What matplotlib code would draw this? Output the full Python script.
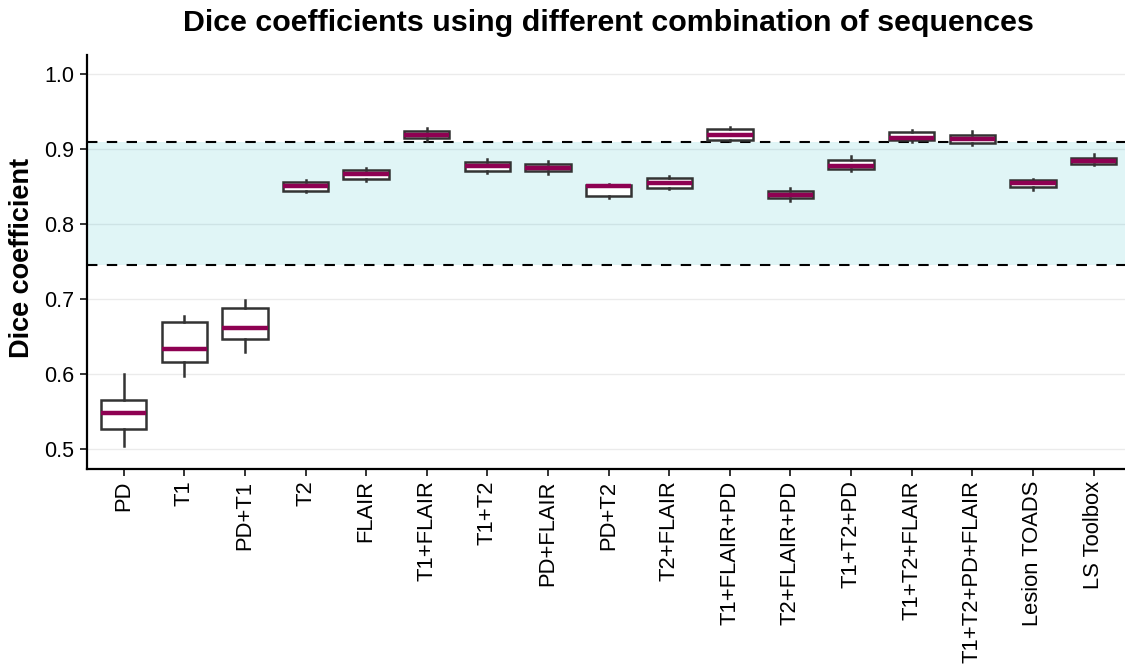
import matplotlib
matplotlib.use("Agg")
import matplotlib.pyplot as plt
import numpy as np

# sequence combinations along the x axis
labels = ['PD', 'T1', 'PD+T1', 'T2', 'FLAIR', 'T1+FLAIR', 'T1+T2', 'PD+FLAIR',
          'PD+T2', 'T2+FLAIR', 'T1+FLAIR+PD', 'T2+FLAIR+PD', 'T1+T2+PD',
          'T1+T2+FLAIR', 'T1+T2+PD+FLAIR', 'Lesion TOADS', 'LS Toolbox']

# box summary statistics of the dice coefficient per combination
whislo = [0.504, 0.598, 0.629, 0.842, 0.857, 0.911, 0.868, 0.866, 0.835,
          0.846, 0.910, 0.830, 0.871, 0.909, 0.905, 0.845, 0.879]
q1 = [0.527, 0.616, 0.647, 0.844, 0.860, 0.914, 0.871, 0.870, 0.837,
      0.848, 0.912, 0.834, 0.873, 0.912, 0.908, 0.849, 0.880]
med = [0.548, 0.633, 0.662, 0.850, 0.866, 0.919, 0.877, 0.874, 0.851,
       0.855, 0.918, 0.838, 0.877, 0.915, 0.913, 0.854, 0.884]
q3 = [0.565, 0.669, 0.688, 0.856, 0.872, 0.924, 0.882, 0.880, 0.852,
      0.861, 0.926, 0.844, 0.885, 0.922, 0.918, 0.859, 0.888]
whishi = [0.600, 0.678, 0.699, 0.859, 0.875, 0.928, 0.886, 0.884, 0.853,
          0.864, 0.929, 0.848, 0.890, 0.925, 0.924, 0.860, 0.893]

# reference range (dashed lines + shaded band)
band_lo = 0.745
band_hi = 0.909

plt.rcParams['font.family'] = ['Liberation Sans', 'DejaVu Sans']

fig = plt.figure(figsize=(11.25, 6.65), dpi=100)
ax = fig.add_axes([0.0776, 0.2943, 0.9268, 0.6227])

ax.set_xlim(-0.6, len(labels) - 0.4)
ax.set_ylim(0.473, 1.025)

# horizontal grid
ax.set_yticks([0.5, 0.6, 0.7, 0.8, 0.9, 1.0])
ax.grid(axis='y', color='#EBEBEB', linewidth=1.0, zorder=0)
ax.set_axisbelow(True)

# shaded band and its limits
ax.axhspan(band_lo, band_hi, color='#00ADBD', alpha=0.12, linewidth=0, zorder=1)
for yv in (band_lo, band_hi):
    ax.axhline(yv, color='black', linewidth=1.5, linestyle=(0, (5, 4.5)), zorder=2)

stats = []
for i in range(len(labels)):
    stats.append({'label': labels[i], 'whislo': whislo[i], 'q1': q1[i],
                  'med': med[i], 'q3': q3[i], 'whishi': whishi[i], 'fliers': []})

edge = '#333333'
ax.bxp(stats, positions=np.arange(len(labels)), widths=0.75,
       patch_artist=True, showcaps=False, showfliers=False,
       boxprops=dict(facecolor='white', edgecolor=edge, linewidth=1.8),
       whiskerprops=dict(color=edge, linewidth=1.8),
       medianprops=dict(color='#8E0152', linewidth=3.2, solid_capstyle='butt'),
       zorder=3)

ax.set_xticks(np.arange(len(labels)))
ax.set_xticklabels(labels, rotation=90, fontsize=15.8)
ax.set_yticklabels(['0.5', '0.6', '0.7', '0.8', '0.9', '1.0'], fontsize=15.5)

for side in ('top', 'right'):
    ax.spines[side].set_visible(False)
for side in ('left', 'bottom'):
    ax.spines[side].set_linewidth(1.6)
    ax.spines[side].set_color('black')
ax.tick_params(axis='both', length=5, width=1.4, color='#333333',
               labelcolor='black', pad=3)
ax.tick_params(axis='y', pad=4.5)

fig.text(22 / 1125, 0.612, 'Dice coefficient', rotation=90, ha='center',
         va='center', fontsize=19.5, fontweight='bold')
fig.text(0.5408, 0.9534, 'Dice coefficients using different combination of sequences',
         ha='center', va='baseline', fontsize=21.9, fontweight='bold')

fig.savefig('out.png', dpi=100)
